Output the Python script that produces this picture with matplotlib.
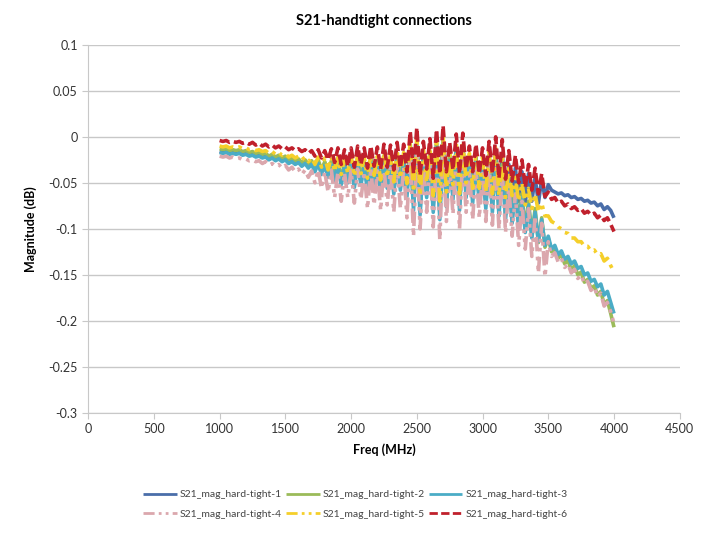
import matplotlib
matplotlib.use("Agg")
import matplotlib.pyplot as plt

plt.rcParams['font.family'] = ['Lato', 'DejaVu Sans']

# sweep points, 25 MHz apart
freq_mhz = list(range(1000, 4001, 25))

s21_1 = [-0.016, -0.017, -0.016, -0.018, -0.017, -0.018, -0.017, -0.019, -0.018, -0.020,
         -0.019, -0.021, -0.020, -0.022, -0.021, -0.024, -0.022, -0.025, -0.023, -0.026,
         -0.024, -0.028, -0.026, -0.029, -0.027, -0.031, -0.028, -0.033, -0.029, -0.036,
         -0.028, -0.039, -0.030, -0.042, -0.029, -0.046, -0.030, -0.050, -0.031, -0.048,
         -0.028, -0.052, -0.027, -0.049, -0.030, -0.055, -0.026, -0.051, -0.029, -0.056,
         -0.024, -0.052, -0.026, -0.058, -0.022, -0.054, -0.025, -0.060, -0.010, -0.072,
         -0.006, -0.078, -0.020, -0.060, -0.018, -0.075, -0.008, -0.082, -0.004, -0.070,
         -0.022, -0.062, -0.012, -0.074, -0.010, -0.060, -0.025, -0.066, -0.022, -0.064,
         -0.028, -0.068, -0.020, -0.070, -0.015, -0.072, -0.018, -0.070, -0.030, -0.068,
         -0.034, -0.070, -0.038, -0.072, -0.040, -0.070, -0.044, -0.072, -0.046, -0.066,
         -0.052, -0.058, -0.060, -0.062, -0.061, -0.064, -0.063, -0.066, -0.065, -0.068,
         -0.067, -0.070, -0.069, -0.072, -0.071, -0.075, -0.073, -0.079, -0.076, -0.080,
         -0.088]
s21_2 = [-0.013, -0.014, -0.013, -0.015, -0.014, -0.015, -0.014, -0.016, -0.015, -0.017,
         -0.016, -0.018, -0.017, -0.019, -0.018, -0.021, -0.019, -0.022, -0.020, -0.023,
         -0.021, -0.025, -0.023, -0.026, -0.024, -0.028, -0.025, -0.030, -0.026, -0.033,
         -0.025, -0.036, -0.027, -0.039, -0.026, -0.042, -0.027, -0.046, -0.028, -0.045,
         -0.025, -0.049, -0.024, -0.046, -0.027, -0.051, -0.023, -0.048, -0.026, -0.053,
         -0.021, -0.050, -0.023, -0.055, -0.019, -0.051, -0.022, -0.057, -0.008, -0.068,
         -0.004, -0.074, -0.018, -0.058, -0.016, -0.072, -0.006, -0.078, -0.002, -0.067,
         -0.020, -0.060, -0.010, -0.071, -0.009, -0.058, -0.024, -0.065, -0.022, -0.066,
         -0.030, -0.072, -0.024, -0.076, -0.022, -0.080, -0.030, -0.084, -0.045, -0.088,
         -0.055, -0.095, -0.062, -0.100, -0.070, -0.108, -0.078, -0.115, -0.088, -0.120,
         -0.110, -0.125, -0.122, -0.132, -0.128, -0.138, -0.134, -0.145, -0.140, -0.150,
         -0.147, -0.158, -0.155, -0.165, -0.162, -0.172, -0.168, -0.182, -0.178, -0.192,
         -0.207]
s21_3 = [-0.017, -0.018, -0.017, -0.019, -0.018, -0.019, -0.018, -0.020, -0.019, -0.021,
         -0.020, -0.022, -0.021, -0.023, -0.022, -0.025, -0.023, -0.026, -0.024, -0.027,
         -0.025, -0.029, -0.027, -0.030, -0.028, -0.032, -0.029, -0.034, -0.030, -0.038,
         -0.029, -0.041, -0.031, -0.044, -0.030, -0.048, -0.031, -0.052, -0.032, -0.050,
         -0.030, -0.055, -0.029, -0.052, -0.032, -0.058, -0.028, -0.054, -0.031, -0.060,
         -0.027, -0.056, -0.029, -0.062, -0.025, -0.058, -0.028, -0.065, -0.014, -0.080,
         -0.010, -0.085, -0.024, -0.066, -0.022, -0.082, -0.012, -0.090, -0.008, -0.076,
         -0.026, -0.068, -0.016, -0.080, -0.014, -0.066, -0.030, -0.072, -0.028, -0.072,
         -0.034, -0.078, -0.028, -0.082, -0.026, -0.086, -0.034, -0.090, -0.048, -0.094,
         -0.058, -0.100, -0.066, -0.104, -0.074, -0.110, -0.082, -0.114, -0.090, -0.118,
         -0.108, -0.122, -0.118, -0.128, -0.124, -0.133, -0.130, -0.138, -0.135, -0.143,
         -0.141, -0.150, -0.148, -0.157, -0.155, -0.163, -0.160, -0.172, -0.168, -0.180,
         -0.192]
s21_4 = [-0.021, -0.022, -0.021, -0.023, -0.022, -0.024, -0.023, -0.025, -0.024, -0.026,
         -0.025, -0.027, -0.026, -0.029, -0.027, -0.031, -0.029, -0.032, -0.030, -0.034,
         -0.031, -0.036, -0.033, -0.038, -0.035, -0.041, -0.036, -0.044, -0.037, -0.050,
         -0.036, -0.056, -0.038, -0.060, -0.036, -0.066, -0.038, -0.070, -0.039, -0.066,
         -0.036, -0.072, -0.035, -0.068, -0.038, -0.078, -0.034, -0.074, -0.037, -0.080,
         -0.032, -0.074, -0.034, -0.082, -0.030, -0.078, -0.033, -0.088, -0.018, -0.108,
         -0.014, -0.100, -0.030, -0.082, -0.028, -0.098, -0.016, -0.112, -0.012, -0.092,
         -0.032, -0.084, -0.020, -0.100, -0.018, -0.082, -0.036, -0.090, -0.034, -0.088,
         -0.040, -0.092, -0.032, -0.096, -0.030, -0.100, -0.038, -0.104, -0.052, -0.108,
         -0.062, -0.118, -0.070, -0.122, -0.078, -0.130, -0.086, -0.148, -0.094, -0.152,
         -0.114, -0.130, -0.126, -0.136, -0.132, -0.142, -0.138, -0.148, -0.144, -0.154,
         -0.150, -0.160, -0.157, -0.167, -0.163, -0.174, -0.170, -0.184, -0.180, -0.190,
         -0.203]
s21_5 = [-0.010, -0.011, -0.010, -0.012, -0.011, -0.012, -0.011, -0.013, -0.012, -0.014,
         -0.013, -0.015, -0.014, -0.016, -0.015, -0.018, -0.016, -0.019, -0.017, -0.020,
         -0.018, -0.022, -0.020, -0.023, -0.021, -0.025, -0.022, -0.027, -0.023, -0.030,
         -0.022, -0.033, -0.023, -0.036, -0.022, -0.038, -0.022, -0.041, -0.023, -0.040,
         -0.020, -0.043, -0.019, -0.040, -0.022, -0.045, -0.018, -0.042, -0.021, -0.047,
         -0.016, -0.044, -0.018, -0.049, -0.014, -0.045, -0.017, -0.051, -0.004, -0.060,
         0.000, -0.064, -0.012, -0.050, -0.010, -0.064, -0.002, -0.070, 0.002, -0.060,
         -0.015, -0.052, -0.006, -0.062, -0.005, -0.050, -0.018, -0.056, -0.016, -0.056,
         -0.022, -0.060, -0.016, -0.062, -0.012, -0.064, -0.020, -0.066, -0.034, -0.064,
         -0.044, -0.070, -0.050, -0.074, -0.056, -0.078, -0.062, -0.082, -0.072, -0.086,
         -0.086, -0.092, -0.094, -0.098, -0.100, -0.104, -0.105, -0.110, -0.110, -0.114,
         -0.114, -0.119, -0.119, -0.124, -0.123, -0.128, -0.127, -0.135, -0.132, -0.140,
         -0.147]
s21_6 = [-0.004, -0.005, -0.004, -0.006, -0.005, -0.006, -0.005, -0.007, -0.006, -0.008,
         -0.006, -0.009, -0.007, -0.010, -0.008, -0.011, -0.009, -0.012, -0.010, -0.013,
         -0.011, -0.014, -0.012, -0.015, -0.013, -0.016, -0.014, -0.018, -0.015, -0.021,
         -0.014, -0.023, -0.015, -0.025, -0.013, -0.028, -0.012, -0.030, -0.014, -0.032,
         -0.012, -0.033, -0.010, -0.030, -0.012, -0.034, -0.010, -0.032, -0.011, -0.035,
         -0.008, -0.033, -0.009, -0.036, -0.006, -0.034, -0.008, -0.038, 0.006, -0.040,
         0.010, -0.042, -0.005, -0.035, -0.002, -0.045, 0.008, -0.040, 0.012, -0.038,
         -0.006, -0.036, 0.003, -0.040, 0.004, -0.035, -0.010, -0.038, -0.008, -0.040,
         -0.012, -0.042, -0.005, -0.040, 0.000, -0.045, -0.003, -0.046, -0.015, -0.048,
         -0.020, -0.050, -0.025, -0.055, -0.030, -0.058, -0.034, -0.062, -0.040, -0.065,
         -0.060, -0.068, -0.066, -0.072, -0.070, -0.075, -0.073, -0.078, -0.076, -0.080,
         -0.078, -0.083, -0.081, -0.085, -0.083, -0.088, -0.085, -0.091, -0.088, -0.095,
         -0.103]

series_names = ['S21_mag_hard-tight-1', 'S21_mag_hard-tight-2', 'S21_mag_hard-tight-3',
                'S21_mag_hard-tight-4', 'S21_mag_hard-tight-5', 'S21_mag_hard-tight-6']
x_ticks = [0, 500, 1000, 1500, 2000, 2500, 3000, 3500, 4000, 4500]
y_ticks = [0.1, 0.05, 0, -0.05, -0.1, -0.15, -0.2, -0.25, -0.3]

colors = ['#4a6ea9', '#9bbb59', '#4bacc6', '#dba7ad', '#f5cf2a', '#c0202c']
styles = [(0, ()), (0, ()), (0, ()), (0, (4, 1.5, 1, 1.5, 1, 1.5)),
          (0, (4, 1.5, 1, 1.5, 1, 1.5)), (0, (3, 1.2))]

fig = plt.figure(figsize=(7.11, 5.34), dpi=100)
ax = fig.add_axes([0.124, 0.227, 0.832, 0.689])

lines = []
for ys, name, c, ls in zip([s21_1, s21_2, s21_3, s21_4, s21_5, s21_6],
                           series_names, colors, styles):
    ln, = ax.plot(freq_mhz, ys, color=c, linestyle=ls, lw=2.6, label=name)
    lines.append(ln)

ax.set_xlim(0, 4500)
ax.set_ylim(-0.3, 0.1)
ax.set_xticks(x_ticks)
ax.set_yticks(y_ticks)
ax.set_yticklabels(['{:g}'.format(v) for v in y_ticks])
ax.yaxis.grid(True, color='#c8c8c8', lw=1)
ax.set_axisbelow(True)
for s in ['top', 'right']:
    ax.spines[s].set_visible(False)
for s in ['left', 'bottom']:
    ax.spines[s].set_color('#c8c8c8')
ax.tick_params(colors='#c8c8c8', labelcolor='#333333', labelsize=9, length=4)

ax.set_title('S21-handtight connections', fontsize=10.5, fontweight='bold', pad=14)
ax.set_xlabel('Freq (MHz)', fontsize=9, fontweight='bold', labelpad=6)
ax.set_ylabel('Magnitude (dB)', fontsize=9, fontweight='bold', labelpad=8)

# legend rows: 1,2,3 / 4,5,6 (matplotlib fills columns first)
order = [0, 3, 1, 4, 2, 5]
leg = fig.legend([lines[i] for i in order], [series_names[i] for i in order],
                 loc='center', bbox_to_anchor=(0.5, 0.055), ncol=3, frameon=False,
                 fontsize=7.5, handlelength=3.2, handletextpad=0.3, columnspacing=0.4,
                 labelspacing=1.0, labelcolor='#444444')
for h in leg.legend_handles:
    h.set_linewidth(2)

fig.savefig('out.png', dpi=100)
